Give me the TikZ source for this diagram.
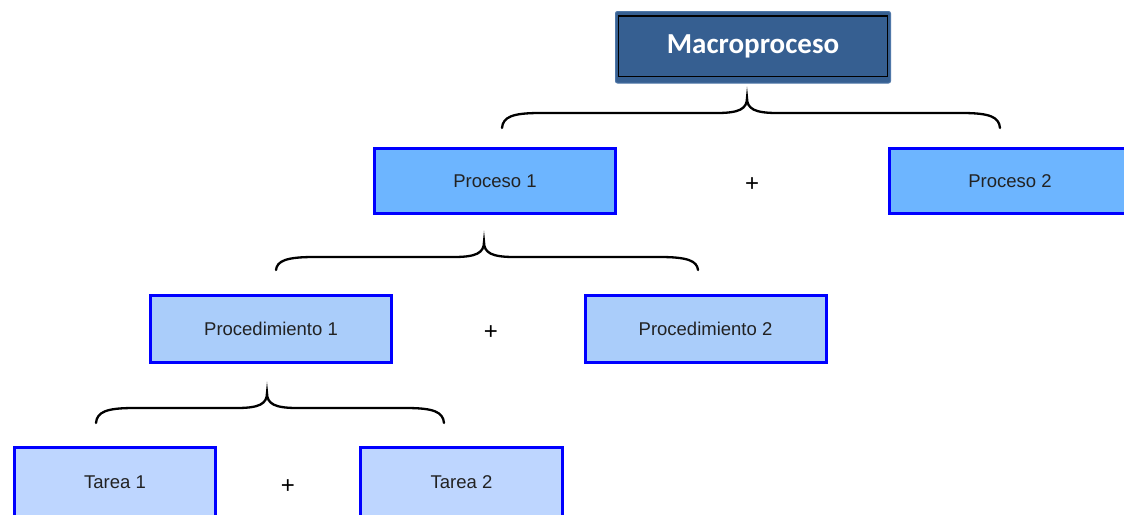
\documentclass[tikz,border=0pt]{standalone}
\usepackage{fontspec}
\setmainfont{Liberation Sans}
\newfontfamily\calib{Carlito}
\definecolor{macrofill}{HTML}{365F91}
\definecolor{macroedge}{HTML}{4F77A8}
\definecolor{procfill}{HTML}{6DB5FF}
\definecolor{procdfill}{HTML}{AACDFA}
\definecolor{tareafill}{HTML}{BED6FF}
\definecolor{txt}{HTML}{222222}
\newcommand\mybrace[5]{% x0, xc, x1, ytop, yend
  \draw[bracestyle] (#1,#5) .. controls ({#1+1},{#4+19}) and ({#1+10},{#4+15}) .. ({#1+38},{#4+15})
    -- ({#2-30},{#4+15}) .. controls ({#2-8},{#4+15}) and (#2,{#4+11}) .. (#2,#4)
    .. controls (#2,{#4+11}) and ({#2+8},{#4+15}) .. ({#2+30},{#4+15})
    -- ({#3-38},{#4+15}) .. controls ({#3-10},{#4+15}) and ({#3-1},{#4+19}) .. (#3,#5);}
\begin{document}
\begin{tikzpicture}[x=1pt,y=-1pt,
  box/.style={draw=blue, line width=3pt, minimum width=241pt, minimum height=65pt,
    inner sep=0pt, font=\fontsize{18.5}{20}\selectfont, text=txt},
  plus/.style={font=\fontsize{24}{26}\selectfont, text=black, inner sep=0pt},
  bracestyle/.style={line width=2.3pt, line cap=round, black}]
\clip (0,0) rectangle (1124,514);
\fill[white] (0,0) rectangle (1124,514);
% Macroproceso
\draw[fill=macrofill, draw=macroedge, line width=1pt, rounded corners=2pt] (615.5,11.5) rectangle (890.5,83);
\draw[black, line width=1.3pt] (618.5,16) rectangle (887.5,76.5);
\node[text=white, font=\calib\bfseries\fontsize{29}{31}\selectfont, inner sep=0pt] (macro) at (753,46.5) {Macroproceso};
% Level 1
\node[box, fill=procfill] (p1) at (495,181) {Proceso 1};
\node[box, fill=procfill] (p2) at (1010,181) {Proceso 2};
\node[plus] (plus1) at (752,185) {+};
% Level 2
\node[box, fill=procdfill, minimum height=67pt] (pd1) at (271,329) {Procedimiento 1};
\node[box, fill=procdfill, minimum height=67pt] (pd2) at (705.5,329) {Procedimiento 2};
\node[plus] (plus2) at (491,333) {+};
% Level 3
\node[box, fill=tareafill, minimum width=201pt, minimum height=69pt] (t1) at (115,482) {Tarea 1};
\node[box, fill=tareafill, minimum width=202pt, minimum height=69pt] (t2) at (461.5,482) {Tarea 2};
\node[plus] (plus3) at (288,487) {+};
% Braces
\mybrace{502}{747}{1000}{98}{128}
\mybrace{276}{484}{698}{242}{270}
\mybrace{96}{267}{444}{393}{423}
\end{tikzpicture}
\end{document}
